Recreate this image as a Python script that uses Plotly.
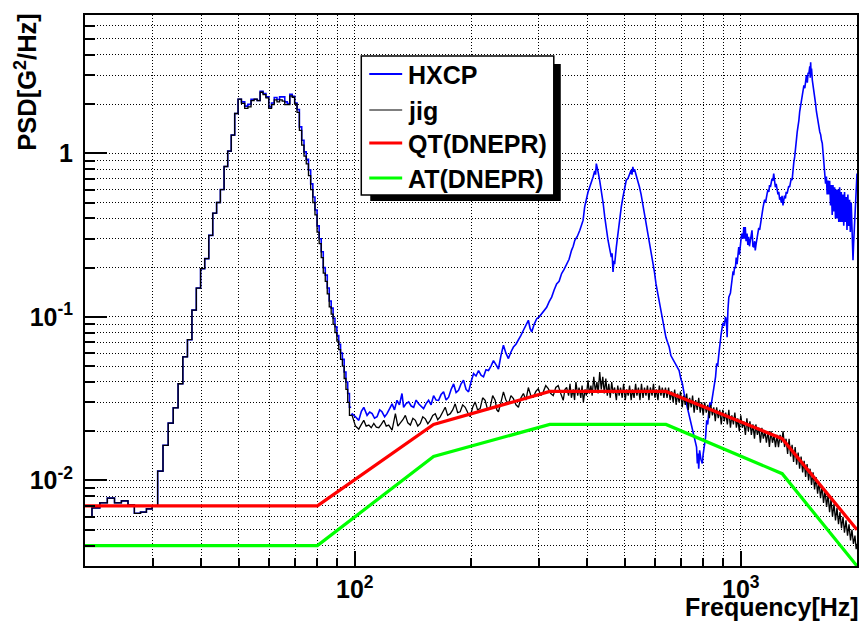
import plotly.graph_objects as go

# ---------------- data ----------------
# Low-frequency part: 1 Hz histogram bins, left edges
low_bin_left = [19.85 + i for i in range(78)]
low_bin_right_end = 97.85

hxcp_low = [0.0060, 0.0068, 0.0073, 0.0078, 0.0073, 0.0075, 0.0071, 0.0063, 0.0064, 0.0067,
            0.0070, 0.0114, 0.0164, 0.0224, 0.0278, 0.039, 0.057, 0.0725, 0.110, 0.150,
            0.197, 0.227, 0.315, 0.43, 0.50, 0.60, 0.83, 1.03, 1.29, 1.75,
            2.14, 2.06, 1.94, 1.99, 2.14, 2.14, 2.10, 2.39, 2.32, 2.21,
            1.92, 2.03, 2.19, 2.13, 2.21, 2.21, 2.06, 2.01, 2.29, 2.23,
            2.03, 1.85, 1.45, 1.20, 1.02, 0.92, 0.79, 0.65, 0.54, 0.45,
            0.36, 0.30, 0.25, 0.20, 0.18, 0.15, 0.125, 0.113, 0.098, 0.087,
            0.077, 0.068, 0.060, 0.055, 0.046, 0.040, 0.034, 0.028]

jig_low = [0.0060, 0.0068, 0.0073, 0.0078, 0.0073, 0.0075, 0.0071, 0.0063, 0.0064, 0.0067,
           0.0070, 0.0114, 0.0164, 0.0224, 0.0278, 0.039, 0.057, 0.0725, 0.110, 0.150,
           0.197, 0.227, 0.315, 0.43, 0.50, 0.60, 0.83, 1.03, 1.29, 1.75,
           2.14, 2.02, 1.88, 1.92, 2.10, 2.14, 2.10, 2.36, 2.28, 2.18,
           1.88, 1.98, 2.12, 2.06, 2.12, 2.08, 1.98, 1.98, 2.24, 2.20,
           2.00, 1.78, 1.38, 1.12, 0.96, 0.86, 0.73, 0.60, 0.50, 0.42,
           0.33, 0.28, 0.23, 0.185, 0.165, 0.138, 0.115, 0.104, 0.090, 0.080,
           0.071, 0.063, 0.055, 0.050, 0.042, 0.036, 0.030, 0.025]

# High-frequency part (dense spectrum), frequency / PSD pairs
hxcp_hi_f = [97.8, 98.5, 100.4, 102.4, 104, 105.5, 107.6, 109.3, 110.9, 112.5, 114.2, 116, 117.6, 119.5,
             121.2, 123, 124.9, 126.7, 128.6, 130.5, 132.5, 133.8, 135.8, 137.9, 140, 142.1, 144.2, 146.3,
             148.5, 150.7, 153, 155.3, 157.6, 160, 162.4, 164.8, 167.3, 169.8, 172.4, 175, 177.6, 180.3,
             183, 185.7, 188.5, 191.3, 194.2, 197.1, 200, 203.1, 206.1, 209.2, 212.3, 215.5, 218.7, 222,
             225.3, 228.7, 232.1, 235.6, 239.1, 242.7, 246.3, 250, 253.8, 257.6, 261.5, 265.4, 269.4, 273.4,
             277.5, 281.6, 284.5, 287.3, 291.5, 296, 300.5, 304.9, 309.5, 314.1, 318.8, 323.6, 328.4, 333.3,
             338.3, 343.4, 348.5, 353.8, 359, 364.3, 368, 371.5, 377, 382.8, 386.6, 390.4, 394, 398.2, 402,
             406.1, 410, 414.2, 418.3, 420.5, 422.4, 424.5, 426.9, 431, 435.4, 439.7, 444.1, 448.5, 452.9,
             457.4, 461.9, 464, 466.6, 469, 471.2, 475.9, 480.6, 485.4, 490.2, 495.1, 500, 504.9, 510, 515,
             520, 522.5, 525.2, 528, 530.4, 535.7, 541, 546.3, 551.7, 557.2, 562.7, 568.3, 573.9, 579.6,
             585.4, 591.2, 597, 603, 609, 614.9, 621, 627.2, 633.4, 639.7, 646, 652.4, 658.9, 665.4, 672,
             678.7, 685.4, 692.2, 699, 706, 713, 720, 727, 734.3, 741.6, 749, 756.4, 763.9, 768, 771.6, 775,
             778, 782.2, 788, 794.7, 799, 804, 810.6, 816, 821, 826.8, 832, 837, 843.3, 850, 855, 860.2, 866,
             871, 877.4, 883, 889, 894.9, 900, 906, 912.8, 918, 921.7, 926, 931, 940, 949.7, 955, 958.6, 963,
             968.5, 973, 978, 983, 987.9, 992, 997.7, 1003, 1008, 1013, 1018, 1023, 1027, 1032, 1038, 1043,
             1048, 1053, 1059, 1064, 1069, 1075, 1081, 1086, 1090, 1096, 1102, 1108, 1113, 1119, 1124, 1130,
             1136, 1141, 1147, 1153, 1159, 1164, 1170, 1176, 1182, 1187, 1193, 1199, 1205, 1211, 1217, 1223,
             1229, 1235, 1242, 1248, 1254, 1261, 1267, 1273, 1279, 1286, 1292, 1298, 1305, 1311, 1318, 1325,
             1331, 1338, 1345, 1351, 1358, 1365, 1372, 1379, 1386, 1393, 1400, 1407, 1414, 1421, 1428, 1436,
             1443, 1450, 1457, 1465, 1472, 1479, 1487, 1494, 1501, 1509, 1513, 1517, 1521, 1525, 1532, 1540,
             1547, 1555, 1562, 1570, 1578, 1586, 1594, 1602, 1610, 1618, 1626, 1634, 1642, 1650, 1658, 1666,
             1674, 1683, 1691, 1699, 1708, 1716, 1725, 1733, 1742, 1750, 1759, 1768, 1776, 1785, 1794, 1803,
             1812, 1821, 1830, 1839, 1848, 1857, 1866, 1875, 1884, 1894, 1903, 1913, 1922, 1932, 1941, 1948,
             1953, 1960, 1969, 1980, 1990, 2000]
hxcp_hi_v = [0.025, 0.0255, 0.0245, 0.0233, 0.0265, 0.028, 0.025, 0.0262, 0.0256, 0.024, 0.0245, 0.027, 0.0263, 0.0245,
             0.0256, 0.0275, 0.0294, 0.027, 0.0309, 0.029, 0.034, 0.028, 0.0295, 0.0302, 0.0285, 0.028, 0.031, 0.0294,
             0.0285, 0.0275, 0.0295, 0.0309, 0.029, 0.033, 0.031, 0.0309, 0.0335, 0.0348, 0.031, 0.0323, 0.036, 0.0389,
             0.0345, 0.0356, 0.039, 0.041, 0.036, 0.0348, 0.040, 0.045, 0.0435, 0.047, 0.044, 0.043, 0.0475, 0.047,
             0.050, 0.054, 0.051, 0.048, 0.058, 0.067, 0.060, 0.0556, 0.061, 0.0654, 0.068, 0.072, 0.077, 0.0828,
             0.088, 0.0953, 0.085, 0.0808, 0.090, 0.0975, 0.100, 0.1045, 0.110, 0.1145, 0.124, 0.132, 0.146, 0.159,
             0.165, 0.184, 0.195, 0.211, 0.225, 0.255, 0.270, 0.294, 0.310, 0.338, 0.360, 0.390, 0.470, 0.540, 0.580,
             0.622, 0.660, 0.716, 0.780, 0.740, 0.865, 0.800, 0.770, 0.680, 0.594, 0.500, 0.408, 0.340, 0.294,
             0.260, 0.232, 0.245, 0.188, 0.220, 0.210, 0.267, 0.330, 0.408, 0.470, 0.540, 0.610, 0.684, 0.700, 0.751,
             0.790, 0.740, 0.825, 0.770, 0.800, 0.734, 0.680, 0.622, 0.560, 0.492, 0.430, 0.380, 0.330, 0.294,
             0.260, 0.222, 0.190, 0.159, 0.140, 0.120, 0.107, 0.095, 0.085, 0.075, 0.070, 0.0654, 0.058, 0.0556, 0.054,
             0.052, 0.050, 0.047, 0.042, 0.0389, 0.034, 0.0309, 0.028, 0.0256, 0.023, 0.021, 0.019, 0.0176, 0.016, 0.0127, 0.0146,
             0.0118, 0.0153, 0.0135, 0.0127, 0.0145, 0.0165, 0.0184, 0.0233, 0.022, 0.0269, 0.030, 0.0285, 0.0323, 0.036, 0.040, 0.043, 0.052,
             0.050, 0.0595, 0.070, 0.078, 0.0866, 0.092, 0.088, 0.100, 0.095, 0.075, 0.110, 0.132, 0.140, 0.175, 0.190, 0.180, 0.200,
             0.200, 0.230, 0.210, 0.245, 0.267, 0.240, 0.280, 0.310, 0.323, 0.300, 0.354, 0.300, 0.354, 0.290, 0.323, 0.275,
             0.308, 0.270, 0.294, 0.330, 0.338, 0.270, 0.267, 0.290, 0.255, 0.280, 0.308, 0.330, 0.350, 0.340, 0.372, 0.400,
             0.440, 0.460, 0.492, 0.520, 0.500, 0.550, 0.567, 0.600, 0.580, 0.640, 0.622, 0.660, 0.700, 0.680, 0.751, 0.680,
             0.620, 0.650, 0.594, 0.560, 0.580, 0.520, 0.540, 0.500, 0.550, 0.480, 0.516, 0.550, 0.530, 0.580, 0.567, 0.600,
             0.630, 0.620, 0.660, 0.700, 0.684, 0.800, 0.880, 0.950, 1.04, 1.20, 1.35, 1.45, 1.59, 1.80, 1.95, 2.15,
             2.32, 2.45, 2.60, 2.50, 2.80, 3.00, 2.70, 3.10, 3.07, 3.40, 2.90, 3.60, 3.00, 3.30, 2.80, 2.60,
             2.30, 2.20, 2.01, 1.80, 1.70, 1.55, 1.45, 1.35, 1.30, 1.20, 1.15, 1.00, 0.85, 0.75, 0.652, 0.720,
             0.560, 0.680, 0.560, 0.680, 0.480, 0.640, 0.420, 0.640, 0.440, 0.620, 0.400, 0.600, 0.400, 0.600, 0.380, 0.620,
             0.380, 0.580, 0.380, 0.560, 0.360, 0.580, 0.380, 0.540, 0.340, 0.560, 0.360, 0.520, 0.330, 0.500, 0.300, 0.250,
             0.222, 0.280, 0.354, 0.450, 0.600, 0.751]

jig_hi_f = [97.8, 98.4, 100.4, 102.4, 104, 105.5, 107, 108.7, 110.3, 112, 113.7, 115.4, 117.1, 118.9, 120.6,
            122.4, 124.9, 127.4, 129.3, 131.2, 133.2, 135.2, 137.2, 139.3, 141.4, 143.5, 145.6, 147.8, 150,
            152.3, 154.6, 156.9, 159.2, 161.6, 164, 166.4, 169, 171.5, 174, 176.7, 179.3, 182, 184.7, 187.5,
            190.3, 193.2, 196.1, 199, 202, 205, 208, 211.2, 214.4, 217.6, 220.9, 224.2, 227.6, 231, 233.3,
            235.6, 239.1, 242.7, 246.3, 250, 253.8, 257.6, 261.5, 265.4, 269.4, 273.4, 277.5, 281.6, 285.8,
            290, 294.4, 298.8, 303.3, 307.8, 312.4, 317.1, 321.9, 326.7, 331.6, 336.5, 341.6, 346.7, 350.2,
            353.8, 358, 361, 364, 368, 371, 374, 378, 381, 385, 388, 391, 395, 398, 402, 405, 409, 412, 416,
            420, 424, 427, 431, 435, 439, 443, 447, 451, 455, 459, 463, 467, 471, 476, 480, 484, 488, 493,
            497, 502, 506, 511, 515, 520, 524, 529, 534, 538, 543, 548, 553, 558, 563, 568, 573, 578, 583,
            589, 594, 599, 604, 610, 615, 621, 626, 632, 638, 644, 650, 656, 662, 668, 674, 680, 686, 692,
            698, 705, 711, 718, 724, 731, 737, 744, 750, 757, 764, 771, 778, 785, 792, 799, 806, 814, 821,
            829, 836, 844, 851, 859, 866, 874, 882, 890, 898, 906, 914, 923, 931, 940, 948, 957, 965, 974,
            982, 991, 1000, 1009, 1018, 1028, 1037, 1046, 1056, 1065, 1075, 1085, 1094, 1104, 1114, 1124,
            1134, 1144, 1155, 1165, 1176, 1186, 1197, 1208, 1219, 1230, 1241, 1252, 1264, 1275, 1287, 1298,
            1310, 1322, 1334, 1346, 1358, 1370, 1383, 1395, 1408, 1420, 1433, 1446, 1459, 1472, 1485, 1498,
            1512, 1525, 1539, 1553, 1567, 1581, 1595, 1609, 1624, 1638, 1653, 1668, 1683, 1698, 1713, 1728,
            1744, 1759, 1775, 1791, 1807, 1823, 1840, 1856, 1873, 1890, 1907, 1924, 1941, 1958, 1976, 1990, 2000]
jig_hi_v = [0.025, 0.025, 0.0215, 0.0206, 0.022, 0.0233, 0.0215, 0.0218, 0.021, 0.0223, 0.0212, 0.021, 0.022, 0.0233, 0.0215,
            0.0218, 0.0203, 0.0256, 0.0215, 0.0223, 0.0235, 0.025, 0.0225, 0.0218, 0.024, 0.0233, 0.0215, 0.0223, 0.0245,
            0.0238, 0.0222, 0.0233, 0.025, 0.0256, 0.0235, 0.0245, 0.0265, 0.028, 0.025, 0.0256, 0.027, 0.0294, 0.026, 0.0263,
            0.029, 0.028, 0.026, 0.0245, 0.028, 0.0302, 0.027, 0.0275, 0.032, 0.0309, 0.027, 0.028, 0.033, 0.0309, 0.027,
            0.0263, 0.030, 0.0348, 0.031, 0.0294, 0.033, 0.0316, 0.029, 0.028, 0.032, 0.034, 0.031, 0.037, 0.033,
            0.0323, 0.035, 0.0364, 0.033, 0.0348, 0.038, 0.0364, 0.034, 0.033, 0.037, 0.038, 0.034, 0.0309, 0.036,
            0.037, 0.033, 0.039, 0.032, 0.036, 0.031, 0.040, 0.033, 0.037, 0.032, 0.038, 0.030, 0.036, 0.033, 0.041, 0.034, 0.038, 0.033, 0.043,
            0.035, 0.040, 0.034, 0.046, 0.036, 0.043, 0.034, 0.042, 0.033, 0.039, 0.032, 0.040, 0.034, 0.037, 0.031, 0.038, 0.033, 0.037, 0.032,
            0.039, 0.031, 0.036, 0.033, 0.038, 0.031, 0.036, 0.032, 0.039, 0.033, 0.037, 0.031, 0.039, 0.032, 0.037, 0.033, 0.038, 0.031, 0.037,
            0.033, 0.039, 0.032, 0.036, 0.031, 0.038, 0.033, 0.037, 0.032, 0.037, 0.032, 0.037, 0.031, 0.035, 0.030, 0.036, 0.029, 0.034, 0.030,
            0.035, 0.028, 0.033, 0.029, 0.034, 0.027, 0.032, 0.028, 0.033, 0.026, 0.031, 0.027, 0.032, 0.026, 0.030, 0.025, 0.030, 0.026, 0.029,
            0.024, 0.029, 0.025, 0.028, 0.023, 0.028, 0.024, 0.027, 0.022, 0.027, 0.023, 0.026, 0.022, 0.027, 0.021, 0.025, 0.022, 0.026, 0.021,
            0.024, 0.020, 0.025, 0.021, 0.023, 0.019, 0.024, 0.020, 0.023, 0.019, 0.022, 0.018, 0.022, 0.019, 0.021, 0.017,
            0.021, 0.018, 0.020, 0.017, 0.020, 0.016, 0.020, 0.017, 0.019, 0.016, 0.019, 0.016, 0.019, 0.017, 0.020, 0.016,
            0.018, 0.0145, 0.018, 0.014, 0.0165, 0.013, 0.016, 0.0125, 0.0148, 0.0118, 0.014, 0.0112, 0.0132, 0.0105, 0.0126, 0.010,
            0.0118, 0.0094, 0.0112, 0.0088, 0.0105, 0.0083, 0.0098, 0.0078, 0.0092, 0.0073, 0.0087, 0.0069, 0.0082, 0.0064, 0.0077, 0.006,
            0.0072, 0.0057, 0.0068, 0.0054, 0.0064, 0.0051, 0.006, 0.0048, 0.0057, 0.0046, 0.0054, 0.0043, 0.005, 0.0041, 0.0046, 0.0038, 0.0041]

# Test specifications (DNEPR)
spec_f = [20, 80, 160, 320, 640, 1280, 2000]
qt_v = [0.007, 0.007, 0.022, 0.035, 0.035, 0.018, 0.005]
at_v = [0.004, 0.004, 0.014, 0.022, 0.022, 0.011, 0.003]

# axis ticks
x_major = [100, 1000]
x_major_text = ["10<sup>2</sup>", "10<sup>3</sup>"]
x_minor = [30, 40, 50, 60, 70, 80, 90, 200, 300, 400, 500, 600, 700, 800, 900]
y_major = [0.01, 0.1, 1]
y_major_text = ["10<sup>-2</sup>", "10<sup>-1</sup>", "1"]
y_minor = [0.003, 0.004, 0.005, 0.006, 0.007, 0.008, 0.009,
           0.02, 0.03, 0.04, 0.05, 0.06, 0.07, 0.08, 0.09,
           0.2, 0.3, 0.4, 0.5, 0.6, 0.7, 0.8, 0.9,
           2, 3, 4, 5, 6]

legend_names = ["HXCP", "jig", "QT(DNEPR)", "AT(DNEPR)"]

# ---------------- figure ----------------
FONT = "Liberation Sans"
BLUE, BLACK, RED, GREEN = "#0000ff", "#000000", "#ff0000", "#00ff00"
legend_colors = [BLUE, BLACK, RED, GREEN]
legend_widths = [2, 1.2, 3.2, 3.2]

step_x = low_bin_left + [low_bin_right_end]
fig = go.Figure()
fig.add_trace(go.Scatter(x=step_x, y=hxcp_low + [hxcp_low[-1]], mode="lines", line_shape="hv",
                         line=dict(color=BLUE, width=1.6), name="HXCP", showlegend=False))
fig.add_trace(go.Scatter(x=hxcp_hi_f, y=hxcp_hi_v, mode="lines",
                         line=dict(color=BLUE, width=1.6), name="HXCP", showlegend=False))
fig.add_trace(go.Scatter(x=step_x, y=jig_low + [jig_low[-1]], mode="lines", line_shape="hv",
                         line=dict(color=BLACK, width=1.3), name="jig", showlegend=False))
fig.add_trace(go.Scatter(x=jig_hi_f, y=jig_hi_v, mode="lines",
                         line=dict(color=BLACK, width=1.3), name="jig", showlegend=False))
fig.add_trace(go.Scatter(x=spec_f, y=qt_v, mode="lines", line=dict(color=RED, width=3.2),
                         name="QT(DNEPR)", showlegend=False))
fig.add_trace(go.Scatter(x=spec_f, y=at_v, mode="lines", line=dict(color=GREEN, width=3.2),
                         name="AT(DNEPR)", showlegend=False))

L, R, T, B = 85, 3, 15, 56
W, H = 862, 622
pw, ph = W - L - R, H - T - B


def px(xpix):
    return (xpix - L) / pw


def py(ypix):
    return (H - B - ypix) / ph


# legend drawn as a ROOT-style box with shadow
shapes = [
    dict(type="rect", xref="paper", yref="paper", x0=px(371), x1=px(562), y0=py(201), y1=py(64),
         fillcolor="black", line=dict(width=0), layer="above"),
    dict(type="rect", xref="paper", yref="paper", x0=px(362), x1=px(555), y0=py(195), y1=py(56),
         fillcolor="white", line=dict(color="black", width=1.5), layer="above"),
]
annotations = []
rows = [74, 110, 143, 178]
for name, col, lw, ry in zip(legend_names, legend_colors, legend_widths, rows):
    shapes.append(dict(type="line", xref="paper", yref="paper", x0=px(370), x1=px(403),
                       y0=py(ry), y1=py(ry), line=dict(color=col, width=lw), layer="above"))
    annotations.append(dict(text=name, xref="paper", yref="paper", x=px(407), y=py(ry + 1),
                            xanchor="left", yanchor="middle", showarrow=False,
                            font=dict(family=FONT, size=25, color="black", weight="bold")))

annotations += [
    dict(text="Frequency[Hz]", xref="paper", yref="paper", x=1.0, y=py(591), xshift=4,
         xanchor="right", yanchor="top", showarrow=False,
         font=dict(family=FONT, size=25, color="black", weight="bold")),
    dict(text="PSD[G<sup>2</sup>/Hz]", xref="paper", yref="paper", x=px(25), y=py(12),
         xanchor="center", yanchor="top", textangle=-90, showarrow=False,
         font=dict(family=FONT, size=25.5, color="black", weight="bold")),
]

fig.update_layout(
    width=W, height=H, autosize=False,
    margin=dict(l=L, r=R, t=T, b=B, pad=0),
    paper_bgcolor="white", plot_bgcolor="white",
    font=dict(family=FONT, size=24, color="black", weight="bold"),
    showlegend=False,
    xaxis=dict(type="log", range=[1.30103, 3.30103],
               tickmode="array", tickvals=x_major, ticktext=x_major_text,
               ticks="inside", ticklen=15, tickwidth=1.5, tickcolor="black",
               tickfont=dict(family=FONT, size=25, weight="bold"),
               ticklabelstandoff=0,
               showline=True, linecolor="black", linewidth=2, mirror=True,
               zeroline=False, showgrid=True, gridcolor="black", gridwidth=1, griddash="1px,2px",
               minor=dict(tickmode="array", tickvals=x_minor, ticks="inside", ticklen=8,
                          tickwidth=1.5, tickcolor="black", showgrid=True, gridcolor="black",
                          gridwidth=1, griddash="1px,2px")),
    yaxis=dict(type="log", range=[-2.52288, 0.845098],
               tickmode="array", tickvals=y_major, ticktext=y_major_text,
               ticks="inside", ticklen=22, tickwidth=1.5, tickcolor="black",
               tickfont=dict(family=FONT, size=25, weight="bold"),
               ticklabelstandoff=5,
               showline=True, linecolor="black", linewidth=2, mirror=True,
               zeroline=False, showgrid=True, gridcolor="black", gridwidth=1, griddash="1px,2px",
               minor=dict(tickmode="array", tickvals=y_minor, ticks="inside", ticklen=10,
                          tickwidth=1.5, tickcolor="black", showgrid=True, gridcolor="black",
                          gridwidth=1, griddash="1px,2px")),
    shapes=shapes,
    annotations=annotations,
)

fig.write_html("out.html")
